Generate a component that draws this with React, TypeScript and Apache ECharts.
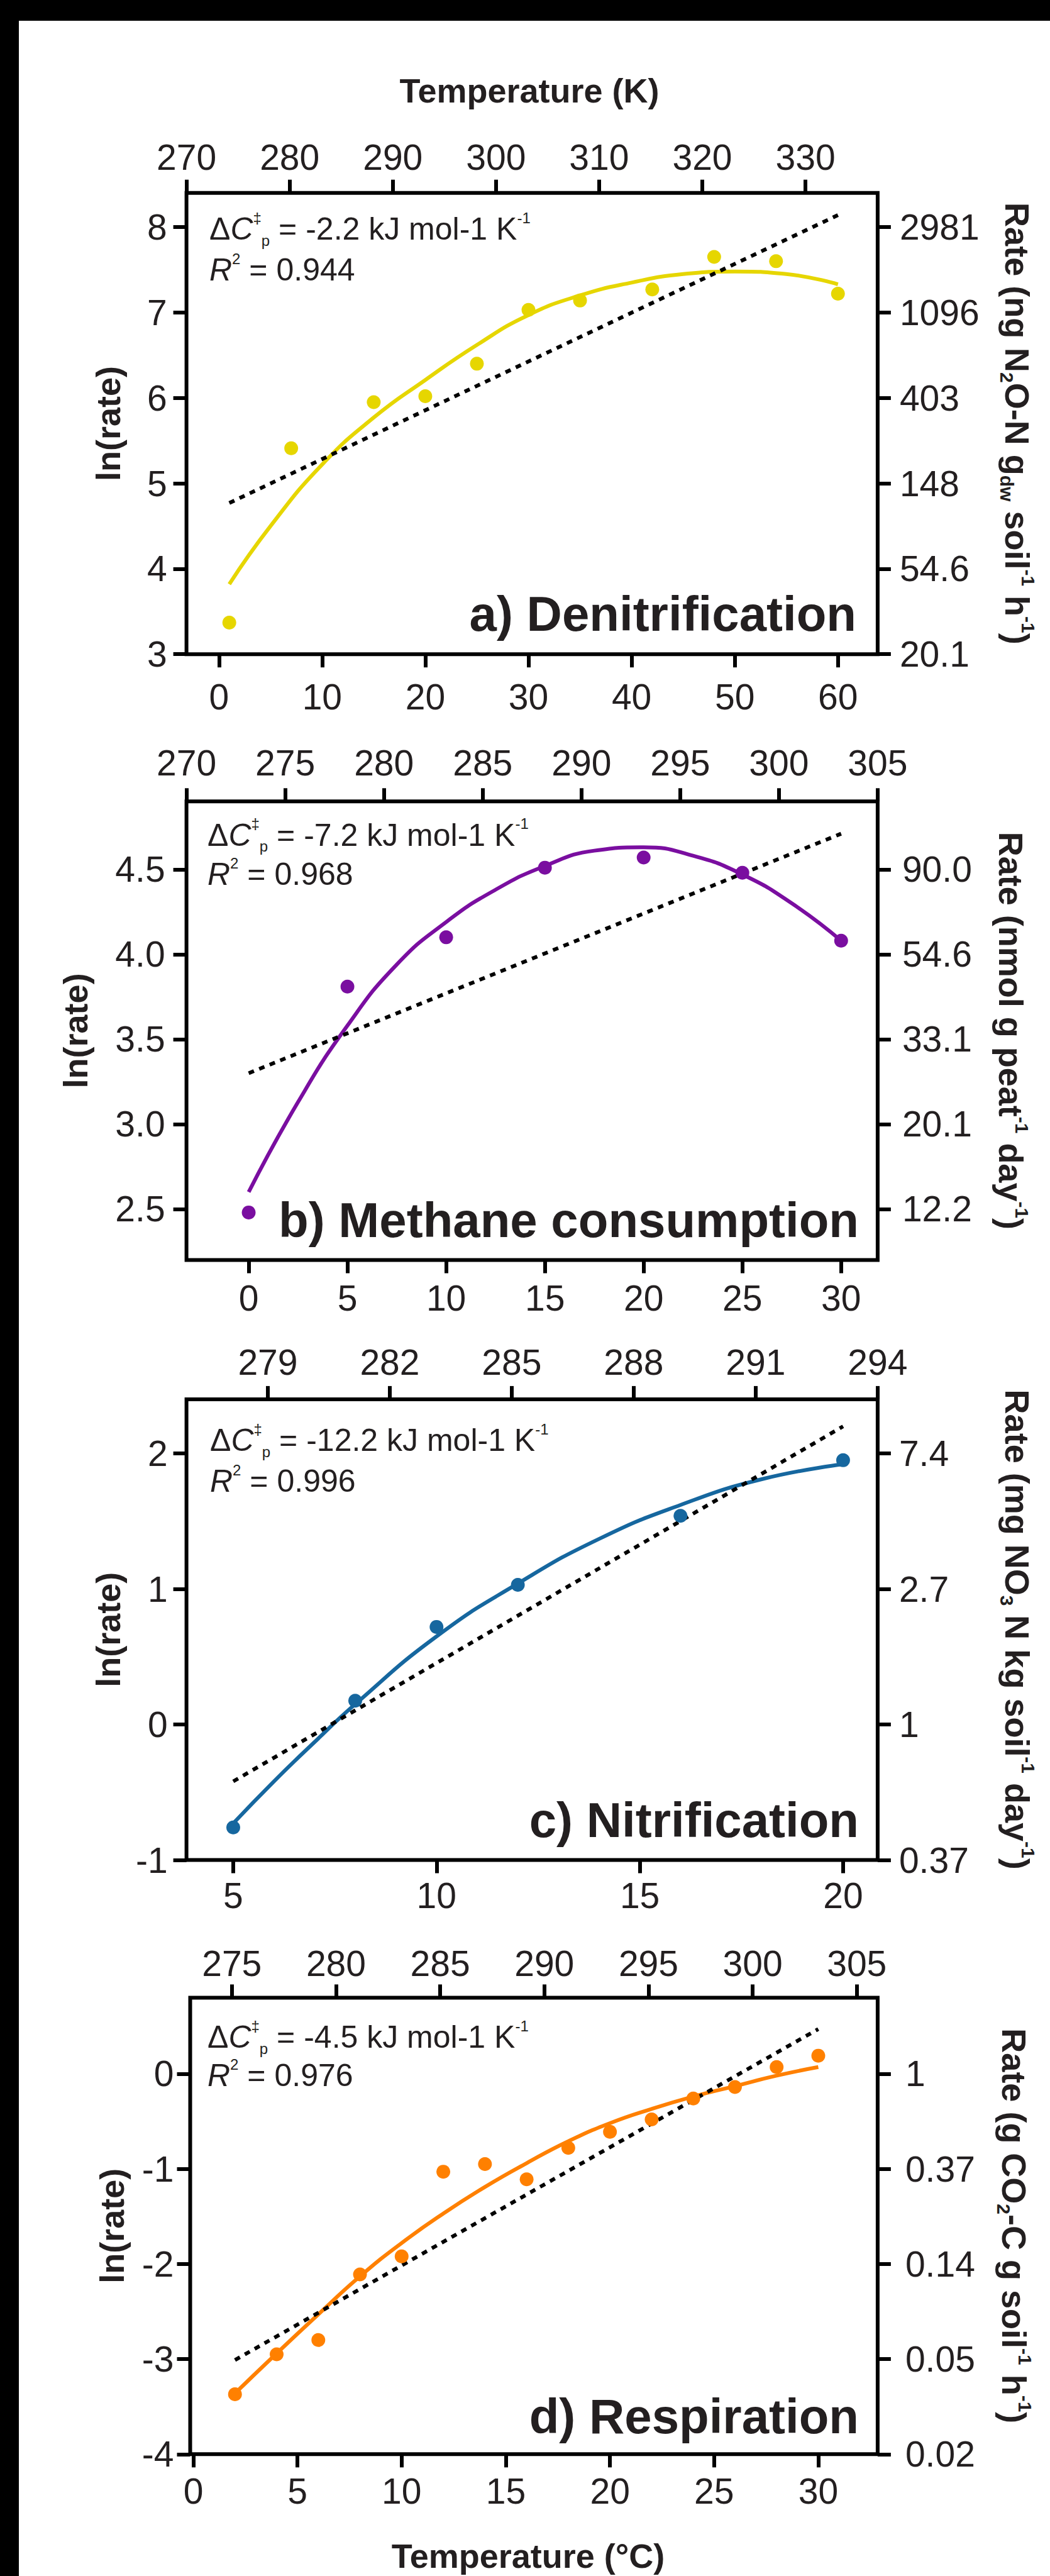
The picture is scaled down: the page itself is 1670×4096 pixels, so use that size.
import React, { useEffect, useRef } from 'react';
import * as echarts from 'echarts';

const W = 1670;
const H = 4096;
const FONT = '"Liberation Sans", Arial, Helvetica, sans-serif';
const INK = '#231f20';

// ---------- Panel a: Denitrification ----------
const aTempC = [1, 7, 15, 20, 25, 30, 35, 42, 48, 54, 60];
const aLnRate = [3.37, 5.41, 5.95, 6.02, 6.4, 7.03, 7.14, 7.27, 7.65, 7.6, 7.22];
const aFitT = [1, 5, 10, 15, 20, 25, 30, 35, 40, 45, 50, 55, 60];
const aFitLn = [3.82, 4.5, 5.22, 5.77, 6.21, 6.62, 6.97, 7.2, 7.35, 7.45, 7.48, 7.45, 7.33];
const aLinT = [1, 60];
const aLinLn = [4.77, 8.14];
const aBottomTicks = [0, 10, 20, 30, 40, 50, 60];
const aTopTicks = [270, 280, 290, 300, 310, 320, 330];
const aLeftTicks = [3, 4, 5, 6, 7, 8];
const aRightLabels = ['20.1', '54.6', '148', '403', '1096', '2981'];

// ---------- Panel b: Methane consumption ----------
const bTempC = [0, 5, 10, 15, 20, 25, 30];
const bLnRate = [2.48, 3.81, 4.1, 4.51, 4.57, 4.48, 4.08];
const bFitT = [0, 2.5, 5, 7.5, 10, 12.5, 15, 17.5, 20, 22.5, 25, 27.5, 30];
const bFitLn = [2.6, 3.13, 3.58, 3.94, 4.19, 4.38, 4.52, 4.61, 4.63, 4.58, 4.47, 4.3, 4.08];
const bLinT = [0, 30];
const bLinLn = [3.3, 4.71];
const bBottomTicks = [0, 5, 10, 15, 20, 25, 30];
const bTopTicks = [270, 275, 280, 285, 290, 295, 300, 305];
const bLeftTicks = [2.5, 3.0, 3.5, 4.0, 4.5];
const bRightLabels = ['12.2', '20.1', '33.1', '54.6', '90.0'];

// ---------- Panel c: Nitrification ----------
const cTempC = [5, 8, 10, 12, 16, 20];
const cLnRate = [-0.76, 0.175, 0.72, 1.03, 1.54, 1.95];
const cFitT = [5, 6, 7, 8, 10, 12, 14, 16, 18, 20];
const cFitLn = [-0.73, -0.42, -0.13, 0.15, 0.65, 1.04, 1.37, 1.62, 1.81, 1.92];
const cLinT = [5, 20];
const cLinLn = [-0.42, 2.2];
const cBottomTicks = [5, 10, 15, 20];
const cTopTicks = [279, 282, 285, 288, 291, 294];
const cLeftTicks = [-1, 0, 1, 2];
const cRightLabels = ['0.37', '1', '2.7', '7.4'];

// ---------- Panel d: Respiration ----------
const dTempC = [2, 4, 6, 8, 10, 12, 14, 16, 18, 20, 22, 24, 26, 28, 30];
const dLnRate = [-3.37, -2.95, -2.8, -2.11, -1.92, -1.03, -0.95, -1.11, -0.78, -0.61, -0.48, -0.26, -0.14, 0.07, 0.19];
const dFitT = [2, 4, 6, 8, 10, 12, 14, 16, 18, 20, 22, 24, 26, 28, 30];
const dFitLn = [-3.36, -2.94, -2.53, -2.13, -1.78, -1.47, -1.19, -0.94, -0.71, -0.52, -0.37, -0.24, -0.13, -0.02, 0.07];
const dLinT = [2, 30];
const dLinLn = [-3.01, 0.47];
const dBottomTicks = [0, 5, 10, 15, 20, 25, 30];
const dTopTicks = [275, 280, 285, 290, 295, 300, 305];
const dLeftTicks = [-4, -3, -2, -1, 0];
const dRightLabels = ['0.02', '0.05', '0.14', '0.37', '1'];

// ---------- texts ----------
const panelNames = ['a) Denitrification', 'b) Methane consumption', 'c) Nitrification', 'd) Respiration'];
const dcpValues = ['-2.2', '-7.2', '-12.2', '-4.5'];
const r2Values = ['0.944', '0.968', '0.996', '0.976'];
const rightTitles = [
  '{t|Rate (ng N}{b|2}{t|O-N g}{b|dw}{t| soil}{u|-1}{t| h}{u|-1}{t|)}',
  '{t|Rate (nmol g peat}{u|-1}{t| day}{u|-1}{t|)}',
  '{t|Rate (mg NO}{b|3}{t| N kg soil}{u|-1}{t| day}{u|-1}{t|)}',
  '{t|Rate (g CO}{b|2}{t|-C g soil}{u|-1}{t| h}{u|-1}{t|)}',
];
const leftTitle = 'ln(rate)';
const topTitle = 'Temperature (K)';
const bottomTitle = 'Temperature (°C)';

const colors = ['#e6d600', '#7a0ea0', '#16679f', '#ff8000'];
const kRanges = [[270, 337], [270, 305], [277, 294], [273, 306]];
const yRanges = [[3, 8.4], [2.2, 4.9], [-1, 2.4], [-4, 0.8]];

// ---------- layout (output px) ----------
const GRIDS = [
  [296.6, 306.7, 1099.3, 733.5],
  [296.6, 1274.3, 1099.3, 729.2],
  [296.6, 2224.9, 1099.3, 732.6],
  [302.5, 3176.4, 1093.4, 725.9],
];
const bottomMargin = [39, 32, 28, 30];
const topMargin = [28, 33, 30, 26];
const leftMargin = [31, 34, 30, 26];
const rightMargin = [35, 39, 34, 44];
const leftTitleX = [172, 120, 172, 178];
const rightTitleX = [1618, 1608, 1618, 1613];
const annoX = [333, 330, 334, 330];
const anno1Y = [364, 1327.5, 2290, 3239];
const anno2Y = [429, 1390, 2355, 3300];
const labelRight = [1362, 1366, 1366, 1366];
const labelY = [976, 1940, 2894, 3842];

const TICK_FS = 57;
const TITLE_FS = 54;
const ANNO_FS = 50;
const LABEL_FS = 78;

const panels = [
  { t: aTempC, y: aLnRate, ft: aFitT, fy: aFitLn, lt: aLinT, ly: aLinLn, bt: aBottomTicks, tt: aTopTicks, lft: aLeftTicks, rl: aRightLabels, dec: 0 },
  { t: bTempC, y: bLnRate, ft: bFitT, fy: bFitLn, lt: bLinT, ly: bLinLn, bt: bBottomTicks, tt: bTopTicks, lft: bLeftTicks, rl: bRightLabels, dec: 1 },
  { t: cTempC, y: cLnRate, ft: cFitT, fy: cFitLn, lt: cLinT, ly: cLinLn, bt: cBottomTicks, tt: cTopTicks, lft: cLeftTicks, rl: cRightLabels, dec: 0 },
  { t: dTempC, y: dLnRate, ft: dFitT, fy: dFitLn, lt: dLinT, ly: dLinLn, bt: dBottomTicks, tt: dTopTicks, lft: dLeftTicks, rl: dRightLabels, dec: 0 },
];

const K0 = 273.15;

function pairs(xs: number[], ys: number[]) {
  return xs.map((x, i) => [x, ys[i]]);
}

function axisBase(ticks: number[], margin: number, formatter: (v: number) => string) {
  return {
    type: 'value',
    axisLine: { show: false, onZero: false },
    axisTick: {
      show: true,
      inside: false,
      length: 21,
      customValues: ticks,
      lineStyle: { color: '#000', width: 6 },
    },
    axisLabel: {
      show: true,
      margin,
      fontSize: TICK_FS,
      fontFamily: FONT,
      color: INK,
      customValues: ticks,
      formatter,
    },
    splitLine: { show: false },
    splitArea: { show: false },
  };
}

const plainFmt = (v: number) => String(Math.round(v * 1000) / 1000);

function buildOption() {
  const grid: any[] = [];
  const xAxis: any[] = [];
  const yAxis: any[] = [];
  const series: any[] = [];
  const elements: any[] = [];

  elements.push({ type: 'rect', shape: { x: 0, y: 0, width: W, height: 33 }, style: { fill: '#000' }, z: 100 });
  elements.push({ type: 'rect', shape: { x: 0, y: 0, width: 30, height: H }, style: { fill: '#000' }, z: 100 });

  const annoRich = {
    n: { fontSize: ANNO_FS, fontFamily: FONT, fill: INK, lineHeight: 60 },
    i: { fontSize: ANNO_FS, fontFamily: FONT, fontStyle: 'italic', fill: INK, lineHeight: 60 },
    u: { fontSize: 24, fontFamily: FONT, fill: INK, lineHeight: 27, verticalAlign: 'top' },
    b: { fontSize: 24, fontFamily: FONT, fill: INK, lineHeight: 28, verticalAlign: 'bottom' },
  };
  const titleRich = {
    t: { fontSize: TITLE_FS, fontFamily: FONT, fontWeight: 'bold', fill: INK, lineHeight: 64 },
    u: { fontSize: 30, fontFamily: FONT, fontWeight: 'bold', fill: INK, lineHeight: 33, verticalAlign: 'top' },
    b: { fontSize: 30, fontFamily: FONT, fontWeight: 'bold', fill: INK, lineHeight: 35, verticalAlign: 'bottom' },
  };

  panels.forEach((p, i) => {
    const [gl, gt, gw, gh] = GRIDS[i];
    const [kMin, kMax] = kRanges[i];
    const [yMin, yMax] = yRanges[i];
    const color = colors[i];
    grid.push({
      left: gl,
      top: gt,
      width: gw,
      height: gh,
      show: true,
      borderColor: '#000',
      borderWidth: 6,
      backgroundColor: 'transparent',
      containLabel: false,
      outerBoundsMode: 'none',
    });

    xAxis.push({
      ...axisBase(p.bt, bottomMargin[i], plainFmt),
      gridIndex: i,
      position: 'bottom',
      min: kMin - K0,
      max: kMax - K0,
    });
    xAxis.push({
      ...axisBase(p.tt, topMargin[i], plainFmt),
      gridIndex: i,
      position: 'top',
      min: kMin,
      max: kMax,
    });

    const leftFmt = (v: number) => (p.dec ? v.toFixed(p.dec) : plainFmt(v));
    const rightFmt = (v: number) => {
      const k = p.lft.findIndex((tv) => Math.abs(tv - v) < 1e-6);
      return k >= 0 ? p.rl[k] : '';
    };
    yAxis.push({
      ...axisBase(p.lft, leftMargin[i], leftFmt),
      gridIndex: i,
      position: 'left',
      min: yMin,
      max: yMax,
    });
    yAxis.push({
      ...axisBase(p.lft, rightMargin[i], rightFmt),
      gridIndex: i,
      position: 'right',
      min: yMin,
      max: yMax,
    });

    series.push({
      type: 'line',
      xAxisIndex: 2 * i,
      yAxisIndex: 2 * i,
      data: pairs(p.ft, p.fy),
      smooth: true,
      symbol: 'none',
      showSymbol: false,
      lineStyle: { color, width: 6 },
      z: 2,
      silent: true,
    });
    series.push({
      type: 'line',
      xAxisIndex: 2 * i,
      yAxisIndex: 2 * i,
      data: pairs(p.lt, p.ly),
      symbol: 'none',
      showSymbol: false,
      lineStyle: { color: '#000', width: 6, type: [9, 9], cap: 'butt' },
      z: 3,
      silent: true,
    });
    series.push({
      type: 'scatter',
      xAxisIndex: 2 * i,
      yAxisIndex: 2 * i,
      data: pairs(p.t, p.y),
      symbol: 'circle',
      symbolSize: 22,
      itemStyle: { color, opacity: 1 },
      z: 4,
      silent: true,
    });

    const cy = gt + gh / 2;
    elements.push({
      type: 'text',
      x: leftTitleX[i],
      y: cy,
      rotation: Math.PI / 2,
      style: {
        text: leftTitle,
        fontSize: TITLE_FS,
        fontWeight: 'bold',
        fontFamily: FONT,
        fill: INK,
        align: 'center',
        textAlign: 'center',
        verticalAlign: 'middle',
        textVerticalAlign: 'middle',
      },
    });
    elements.push({
      type: 'text',
      x: rightTitleX[i],
      y: cy,
      rotation: -Math.PI / 2,
      style: {
        text: rightTitles[i],
        rich: titleRich,
        fontSize: TITLE_FS,
        fontWeight: 'bold',
        fontFamily: FONT,
        fill: INK,
        align: 'center',
        textAlign: 'center',
        verticalAlign: 'middle',
        textVerticalAlign: 'middle',
      },
    });
    elements.push({
      type: 'text',
      x: annoX[i],
      y: anno1Y[i],
      style: {
        text: `{n|Δ}{i|C}{u|‡}{b|p}{n| = ${dcpValues[i]} kJ mol-1 K}{u|-1}`,
        rich: annoRich,
        fontSize: ANNO_FS,
        fontFamily: FONT,
        fill: INK,
        align: 'left',
        textAlign: 'left',
        verticalAlign: 'middle',
        textVerticalAlign: 'middle',
      },
    });
    elements.push({
      type: 'text',
      x: annoX[i],
      y: anno2Y[i],
      style: {
        text: `{i|R}{u|2}{n| = ${r2Values[i]}}`,
        rich: annoRich,
        fontSize: ANNO_FS,
        fontFamily: FONT,
        fill: INK,
        align: 'left',
        textAlign: 'left',
        verticalAlign: 'middle',
        textVerticalAlign: 'middle',
      },
    });
    elements.push({
      type: 'text',
      x: labelRight[i],
      y: labelY[i],
      style: {
        text: panelNames[i],
        fontSize: LABEL_FS,
        fontWeight: 'bold',
        fontFamily: FONT,
        fill: INK,
        align: 'right',
        textAlign: 'right',
        verticalAlign: 'middle',
        textVerticalAlign: 'middle',
      },
    });
  });

  elements.push({
    type: 'text',
    x: 842,
    y: 144,
    style: {
      text: topTitle,
      fontSize: TITLE_FS,
      fontWeight: 'bold',
      fontFamily: FONT,
      fill: INK,
      align: 'center',
      textAlign: 'center',
      verticalAlign: 'middle',
      textVerticalAlign: 'middle',
    },
  });
  elements.push({
    type: 'text',
    x: 840,
    y: 4064,
    style: {
      text: bottomTitle,
      fontSize: TITLE_FS,
      fontWeight: 'bold',
      fontFamily: FONT,
      fill: INK,
      align: 'center',
      textAlign: 'center',
      verticalAlign: 'middle',
      textVerticalAlign: 'middle',
    },
  });

  return {
    animation: false,
    backgroundColor: '#ffffff',
    textStyle: { fontFamily: FONT },
    grid,
    xAxis,
    yAxis,
    series,
    graphic: { elements },
  };
}

export default function App() {
  const ref = useRef<HTMLDivElement>(null);
  useEffect(() => {
    if (!ref.current) return;
    const chart = echarts.init(ref.current, null, { renderer: 'svg', width: W, height: H });
    chart.setOption(buildOption() as any);
    return () => {
      chart.dispose();
    };
  }, []);
  return <div ref={ref} style={{ position: 'absolute', left: 0, top: 0, width: W, height: H }} />;
}
